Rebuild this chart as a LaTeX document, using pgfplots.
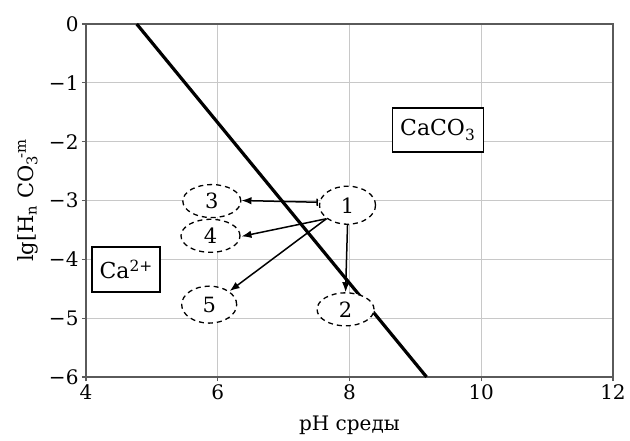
\documentclass[border=0pt]{standalone}
\usepackage{pgfplots}
\pgfplotsset{compat=1.18}
\usepackage{fontspec}
\setmainfont{DejaVu Serif}
\usetikzlibrary{arrows.meta,shapes.geometric}
\definecolor{axgray}{HTML}{5A5A5A}
\definecolor{gridgray}{HTML}{C8C8C8}
\tikzset{
 ellnode/.style={draw, ellipse, fill=white, inner sep=0pt, line width=1.3bp, dash pattern=on 5bp off 4bp, font=\fontsize{21bp}{25bp}\selectfont},
 boxnode/.style={draw, fill=white, line width=1.5bp, inner sep=0pt, font=\fontsize{22bp}{26bp}\selectfont},
 arr/.style={line width=1.5bp, -{Latex[length=10bp,width=7.5bp]}},
}
\begin{document}
\begin{tikzpicture}
\useasboundingbox (-86bp,-64bp) rectangle (544bp,377bp);
\begin{axis}[
 scale only axis, width=527bp, height=353bp,
 xmin=4, xmax=12, ymin=-6, ymax=0,
 xtick={4,6,8,10,12}, ytick={-6,-5,-4,-3,-2,-1,0},
 xticklabels={4,6,8,10,12},
 yticklabels={−6,−5,−4,−3,−2,−1,0},
 ticklabel style={font=\fontsize{20bp}{24bp}\selectfont},
 xlabel style={font=\fontsize{20bp}{24bp}\selectfont, yshift=-9bp},
 ylabel style={font=\fontsize{21bp}{25bp}\selectfont, xshift=0bp, yshift=4bp},
 grid=major, major grid style={gridgray, line width=1bp},
 axis line style={axgray, line width=1.8bp},
 tick style={axgray, line width=1.2bp},
 tick align=outside, major tick length=4bp,
 xtick pos=bottom, ytick pos=left,
 xlabel={pH среды},
 ylabel={lg[H\textsubscript{n} CO\textsubscript{3}\kern-0.15em\textsuperscript{-m}},
 clip=false,
]
\addplot[black, line width=3.2bp] coordinates {(4.77,0) (9.17,-6)};
\draw[arr] (axis cs:7.97,-3.42) -- (axis cs:7.94,-4.56);
\draw[line width=1.5bp, {Bar[width=7bp]}-{Latex[length=10bp,width=7.5bp]}] (axis cs:7.52,-3.03) -- (axis cs:6.36,-3.0);
\draw[arr] (axis cs:7.65,-3.31) -- (axis cs:6.36,-3.61);
\draw[arr] (axis cs:7.65,-3.31) -- (axis cs:6.18,-4.54);
\node[ellnode, minimum width=56bp, minimum height=38bp] at (axis cs:7.97,-3.08) {1};
\node[ellnode, minimum width=57bp, minimum height=33bp] at (axis cs:7.94,-4.85) {2};
\node[ellnode, minimum width=58bp, minimum height=33bp] at (axis cs:5.91,-3.01) {3};
\node[ellnode, minimum width=59bp, minimum height=33bp] at (axis cs:5.89,-3.6) {4};
\node[ellnode, minimum width=55bp, minimum height=37bp] at (axis cs:5.87,-4.77) {5};
\node[boxnode, minimum width=91bp, minimum height=44bp] at (axis cs:9.34,-1.8) {CaCO\textsubscript{3}};
\node[boxnode, minimum width=68bp, minimum height=45bp] at (axis cs:4.61,-4.17) {Ca\textsuperscript{2+}};
\end{axis}
\end{tikzpicture}
\end{document}
